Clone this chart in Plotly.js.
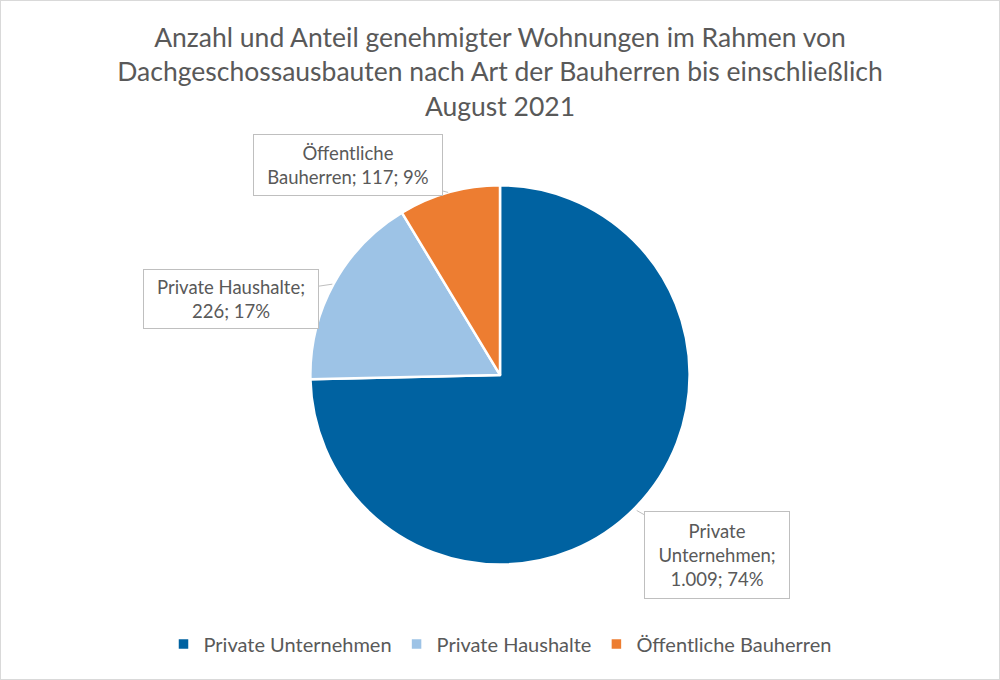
<!DOCTYPE html>
<html>
<head>
<meta charset="utf-8">
<script src="https://cdn.plot.ly/plotly-3.0.1.min.js"></script>
<style>
  body { margin: 0; background: #ffffff; }
  #chart { width: 1000px; height: 680px; box-sizing: border-box; border: 1px solid #d9d9d9; }
</style>
</head>
<body>
<div id="chart"></div>
<script>
// data
//
const categories = ['Private Unternehmen', 'Private Haushalte', 'Öffentliche Bauherren'];
const counts = [1009, 226, 117];
const shares = [74, 17, 9];
const countLabels = ['1.009', '226', '117'];
const colors = ['#0062A1', '#9DC3E6', '#ED7D31'];

const grey = '#595959';
const font = 'Lato, "Open Sans", sans-serif';

// pie trace
//
const trace = {
  type: 'pie',
  labels: categories,
  values: counts,
  sort: false,
  direction: 'clockwise',
  rotation: 0,
  textinfo: 'none',
  hoverinfo: 'label+value+percent',
  marker: { colors: colors, line: { color: '#ffffff', width: 2.5 } },
  domain: { x: [0.31, 0.69], y: [1 - 566 / 680, 1 - 184 / 680] }
};

// callout labels: text box offset from the tip on the slice edge
//
const callouts = [
  { text: 'Private<br>Unternehmen;<br>' + countLabels[0] + '; ' + shares[0] + '%',
    tip: [637, 511], box: [717, 556], w: 144, h: 86 },
  { text: 'Private Haushalte;<br>' + countLabels[1] + '; ' + shares[1] + '%',
    tip: [332, 284], box: [231, 299], w: 174, h: 58 },
  { text: 'Öffentliche<br>Bauherren; ' + countLabels[2] + '; ' + shares[2] + '%',
    tip: [448, 192], box: [348, 165], w: 188, h: 60 }
];

const annotations = callouts.map(c => ({
  xref: 'paper', yref: 'paper',
  x: c.tip[0] / 1000, y: 1 - c.tip[1] / 680,
  axref: 'pixel', ayref: 'pixel',
  ax: c.box[0] - c.tip[0], ay: c.box[1] - c.tip[1],
  text: c.text,
  showarrow: true, arrowhead: 0, arrowwidth: 1, arrowcolor: '#bfbfbf',
  width: c.w, height: c.h, align: 'center', valign: 'middle',
  bgcolor: '#ffffff', bordercolor: '#bfbfbf', borderwidth: 1, borderpad: 0,
  font: { family: font, size: 18.5, color: grey }
}));

const layout = {
  width: 998,
  height: 678,
  margin: { t: 0, b: 0, l: 0, r: 0 },
  paper_bgcolor: '#ffffff',
  font: { family: font, color: grey },
  title: {
    text: 'Anzahl und Anteil genehmigter Wohnungen im Rahmen von<br>' +
          'Dachgeschossausbauten nach Art der Bauherren bis einschließlich<br>August 2021',
    font: { family: font, size: 26.5, color: grey },
    x: 0.5, xanchor: 'center',
    y: 1 - 46 / 680, yanchor: 'top'
  },
  showlegend: true,
  legend: {
    orientation: 'h',
    x: 0.5, xanchor: 'center',
    y: 1 - 645 / 680, yanchor: 'middle',
    font: { family: font, size: 20, color: grey },
    itemwidth: 30,
    traceorder: 'normal'
  },
  annotations: annotations
};

Plotly.newPlot('chart', [trace], layout, { displayModeBar: false, staticPlot: true });
</script>
</body>
</html>
